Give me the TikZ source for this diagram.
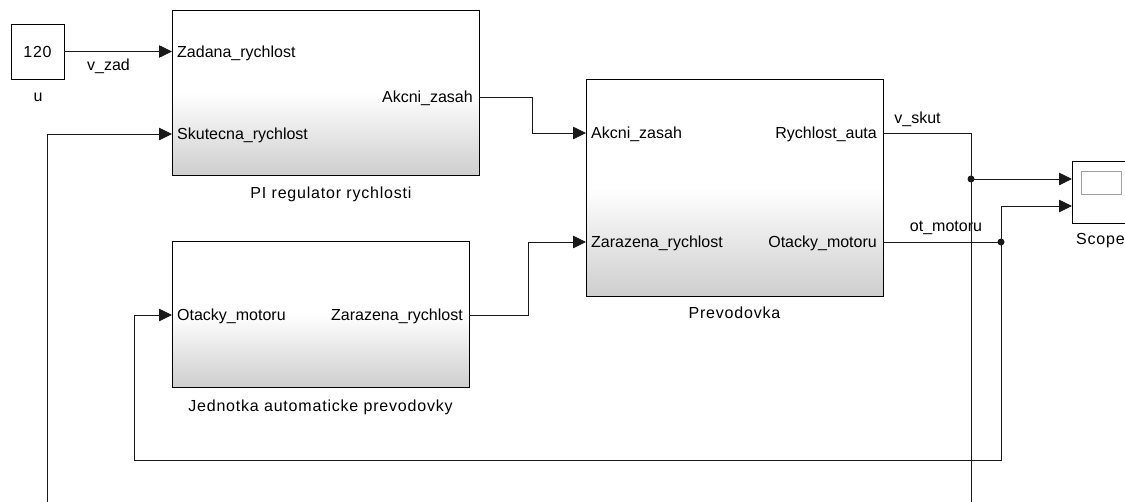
\documentclass[tikz,border=0pt]{standalone}
\usepackage{fontspec}
\setmainfont{Liberation Sans}
\newfontfamily\namefont[LetterSpace=5]{Liberation Sans}
\usetikzlibrary{arrows.meta,calc,shadows}
\definecolor{blockgray}{RGB}{206,206,206}
\definecolor{lineblack}{RGB}{25,25,25}
\begin{document}
\begin{tikzpicture}[x=1pt,y=-1pt,
  blk/.style={draw=black, line width=0.9pt, top color=white, bottom color=blockgray, middle color=white,
    drop shadow={shadow xshift=1.4pt, shadow yshift=-1.4pt, fill=black!65, opacity=1},
    inner sep=0pt, outer sep=0pt},
  plainblk/.style={draw=black, line width=0.9pt, fill=white, inner sep=0pt, outer sep=0pt},
  lbl/.style={inner sep=0pt, text height=11.5pt, text depth=0pt, font=\fontsize{16}{19}\selectfont},
  nm/.style={inner sep=0pt, text height=11.5pt, text depth=0pt, font=\namefont\fontsize{16}{19}\selectfont},
  wire/.style={line width=0.8pt, draw=lineblack},
  sig/.style={wire, -{Triangle[length=13pt,width=12.5pt]}},
  dot/.style={circle, fill=lineblack, inner sep=0pt, minimum size=7pt}
]
\useasboundingbox (0,0) rectangle (1125,501);
\fill[white] (0,0) rectangle (1125,501);

% blocks
\node[plainblk, minimum width=53pt, minimum height=55pt, text height=11.5pt, text depth=0pt,
      font=\namefont\fontsize{16}{19}\selectfont] (cst) at (37.5,51.5) {120};
\node[blk, minimum width=307pt, minimum height=165pt] (pi) at (325.5,92.5) {};
\node[blk, minimum width=297pt, minimum height=217pt] (prev) at (734.5,187.5) {};
\node[blk, minimum width=297pt, minimum height=146pt] (jed) at (320.5,314) {};
\node[plainblk, minimum width=56pt, minimum height=62pt] (scope) at (1100,192) {};
\node[draw=gray!75, line width=0.9pt, fill=white, inner sep=0pt, minimum width=40pt, minimum height=23pt] (screen) at (1101,182.5) {};

% ports
\coordinate (pi-in1) at (cst.east -| pi.west);
\coordinate (pi-in2) at ($(pi.north west)+(0,124)$);
\coordinate (pi-out) at ($(pi.north east)+(0,87)$);
\coordinate (prev-in1) at ($(prev.north west)+(0,54)$);
\coordinate (prev-in2) at ($(prev.north west)+(0,163)$);
\coordinate (prev-out1) at ($(prev.north east)+(0,54)$);
\coordinate (prev-out2) at ($(prev.north east)+(0,163)$);
\coordinate (jed-in) at ($(jed.north west)+(0,74)$);
\coordinate (jed-out) at ($(jed.north east)+(0,74)$);
\coordinate (scope-in1) at ($(scope.north west)+(0,18)$);
\coordinate (scope-in2) at ($(scope.north west)+(0,45)$);

% port labels
\node[lbl, anchor=west] (l1) at ($(pi-in1)+(5,0)$) {Zadana\_rychlost};
\node[lbl, anchor=west] (l2) at ($(pi-in2)+(5,0)$) {Skutecna\_rychlost};
\node[lbl, anchor=east] (l3) at ($(pi-out)+(-6,0)$) {Akcni\_zasah};
\node[lbl, anchor=west] (l4) at ($(prev-in1)+(5,0)$) {Akcni\_zasah};
\node[lbl, anchor=west] (l5) at ($(prev-in2)+(5,0)$) {Zarazena\_rychlost};
\node[lbl, anchor=east] (l6) at ($(prev-out1)+(-6,0)$) {Rychlost\_auta};
\node[lbl, anchor=east] (l7) at ($(prev-out2)+(-6,0)$) {Otacky\_motoru};
\node[lbl, anchor=west] (l8) at ($(jed-in)+(5,0)$) {Otacky\_motoru};
\node[lbl, anchor=east] (l9) at ($(jed-out)+(-6,0)$) {Zarazena\_rychlost};

% block names
\node[nm] (nu) at (38,96) {u};
\node[nm] (npi) at (331,193) {PI regulator rychlosti};
\node[nm] (nprev) at (734.5,313) {Prevodovka};
\node[nm] (njed) at (320.5,406) {Jednotka automaticke prevodovky};
\node[nm, anchor=west] (nscope) at (1076,239) {Scope};

% signal labels
\node[lbl] (svzad) at (108.5,65) {v\_zad};
\node[lbl] (svskut) at (917.5,117.5) {v\_skut};
\node[lbl] (sotm) at (946,226) {ot\_motoru};

% junctions and free ends
\node[dot] (j1) at (971,179) {};
\node[dot] (j2) at (1001,242) {};
\coordinate (bot1) at (971,505);
\coordinate (bot2) at (47,505);
\coordinate (loopc) at (134,460);

% connectors
\draw[sig] (cst.east) -- (pi-in1);
\draw[sig] (pi-out) -- ++(53,0) |- (prev-in1);
\draw[sig] (jed-out) -- ++(59,0) |- (prev-in2);
\draw[wire] (prev-out1) -| (bot1);
\draw[sig] (j1.center) -- (scope-in1);
\draw[wire] (prev-out2) -- (j2.center);
\draw[sig] (j2.center) |- (scope-in2);
\draw[sig] (j2.center) |- (loopc) |- (jed-in);
\draw[sig] (bot2) |- (pi-in2);
\end{tikzpicture}
\end{document}
